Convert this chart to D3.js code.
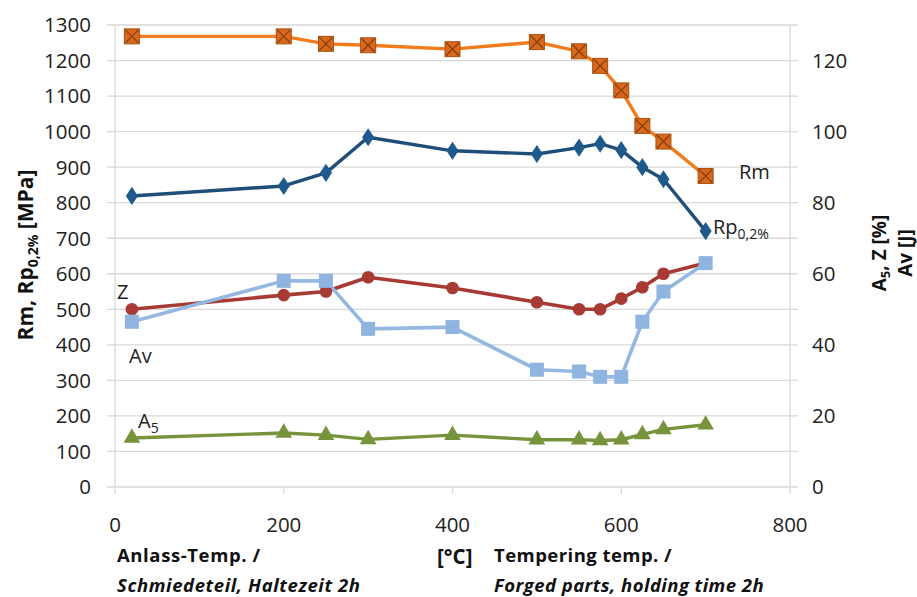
<!DOCTYPE html>
<html><head><meta charset="utf-8">
<script src="https://cdn.jsdelivr.net/npm/d3@7"></script>
<style>
body{margin:0;background:#fff;}
text{font-family:"Open Sans","Noto Sans",sans-serif;}
.wide{font-family:"Open Sans","Noto Sans",sans-serif;font-weight:bold;}
</style></head>
<body><svg id="c" width="917" height="597"></svg>
<script>
const temps = [20, 200, 250, 300, 400, 500, 550, 575, 600, 625, 650, 700];
const rm   = [1268, 1268, 1247, 1243, 1232, 1252, 1226, 1185, 1116, 1016, 972, 875];
const rp   = [819, 847, 884, 984, 946, 937, 955, 966, 948, 900, 866, 720];
const zVal = [50, 54, 55, 59, 56, 52, 50, 50, 53, 56.2, 60, 63];
const av   = [46.5, 58, 58, 44.5, 45, 33, 32.5, 31, 31, 46.5, 55, 63];
const a5   = [13.8, 15.2, 14.6, 13.4, 14.6, 13.3, 13.3, 13.1, 13.3, 14.8, 16.2, 17.5];
const xTicks = [0, 200, 400, 600, 800];
const yLeftTicks = d3.range(0, 1301, 100);
const yRightTicks = [0, 20, 40, 60, 80, 100, 120];

const svg = d3.select("#c");
const x = d3.scaleLinear().domain([0, 800]).range([115, 790]);
const yL = d3.scaleLinear().domain([0, 1300]).range([487, 25]);
const yR = d3.scaleLinear().domain([0, 130]).range([487, 25]);

// gridlines
svg.append("g").selectAll("line").data(yLeftTicks).join("line")
  .attr("x1", 107).attr("x2", 798)
  .attr("y1", d => yL(d)).attr("y2", d => yL(d))
  .attr("stroke", "#d9d9d9").attr("stroke-width", 1.3);
svg.append("line").attr("x1", 115).attr("x2", 115).attr("y1", 25).attr("y2", 487).attr("stroke", "#d9d9d9").attr("stroke-width", 1.3);
svg.append("line").attr("x1", 790).attr("x2", 790).attr("y1", 25).attr("y2", 487).attr("stroke", "#d9d9d9").attr("stroke-width", 1.3);
svg.append("g").selectAll("line").data(xTicks).join("line")
  .attr("x1", d => x(d)).attr("x2", d => x(d)).attr("y1", 487).attr("y2", 494)
  .attr("stroke", "#d9d9d9").attr("stroke-width", 1.3);

// tick labels
svg.append("g").selectAll("text").data(yLeftTicks).join("text")
  .attr("x", 91).attr("y", d => yL(d)).attr("dy", "0.36em").attr("text-anchor", "end")
  .attr("font-size", 20.5).attr("fill", "#222").text(d => d);
svg.append("g").selectAll("text").data(yRightTicks).join("text")
  .attr("x", 812).attr("y", d => yR(d)).attr("dy", "0.36em").attr("text-anchor", "start")
  .attr("font-size", 20.5).attr("fill", "#222").text(d => d);
svg.append("g").selectAll("text").data(xTicks).join("text")
  .attr("x", d => x(d)).attr("y", 525).attr("dy", "0.36em").attr("text-anchor", "middle")
  .attr("font-size", 20.5).attr("fill", "#222").text(d => d);

function series(vals, yS, color, w) {
  const line = d3.line().x((d, i) => x(temps[i])).y(d => yS(d));
  svg.append("path").datum(vals).attr("d", line).attr("fill", "none")
    .attr("stroke", color).attr("stroke-width", w).attr("stroke-linejoin", "round");
}
series(a5, yR, "#77933c", 3.4);
series(zVal, yR, "#a83a34", 3.6);
series(av, yR, "#95b8e0", 3.6);
series(rp, yL, "#1f4e79", 3.4);
series(rm, yL, "#f27c1c", 3.4);

const g = svg.append("g");
g.selectAll(".a5").data(a5).join("path")
  .attr("d", d3.symbol().type(d3.symbolTriangle).size(120))
  .attr("transform", (d, i) => `translate(${x(temps[i])},${yR(d)})`)
  .attr("fill", "#77933c");
g.selectAll(".z").data(zVal).join("circle")
  .attr("cx", (d, i) => x(temps[i])).attr("cy", d => yR(d)).attr("r", 6.3)
  .attr("fill", "#a83a34");
g.selectAll(".av").data(av).join("rect")
  .attr("x", (d, i) => x(temps[i]) - 7).attr("y", d => yR(d) - 7)
  .attr("width", 14).attr("height", 14).attr("fill", "#8fb4df");
g.selectAll(".rp").data(rp).join("path")
  .attr("d", d3.symbol().type(d3.symbolDiamond).size(95))
  .attr("transform", (d, i) => `translate(${x(temps[i])},${yL(d)}) scale(1.15,1)`)
  .attr("fill", "#1f5a8e");
const rmG = g.selectAll(".rm").data(rm).join("g")
  .attr("transform", (d, i) => `translate(${x(temps[i])},${yL(d)})`);
rmG.append("rect").attr("x", -7.5).attr("y", -7.5).attr("width", 15).attr("height", 15)
  .attr("fill", "#d8681d").attr("stroke", "#a7500f").attr("stroke-width", 1);
rmG.append("path").attr("d", "M-6.5,-6.5L6.5,6.5M6.5,-6.5L-6.5,6.5").attr("stroke", "#8a3f0a").attr("stroke-width", 1.3);

// series labels
const lab = svg.append("g").attr("font-size", 20).attr("fill", "#222");
lab.append("text").attr("x", 739).attr("y", 179).text("Rm");
const rpT = lab.append("text").attr("x", 713).attr("y", 234);
rpT.append("tspan").text("Rp");
rpT.append("tspan").attr("font-size", 14).attr("dy", 5).text("0,2%");
lab.append("text").attr("x", 117).attr("y", 299).text("Z");
lab.append("text").attr("x", 129).attr("y", 363).text("Av");
const a5T = lab.append("text").attr("x", 138).attr("y", 428);
a5T.append("tspan").text("A");
a5T.append("tspan").attr("font-size", 14).attr("dy", 5).text("5");

// axis titles
const lt = svg.append("text").attr("transform", "translate(33,255) rotate(-90)")
  .attr("text-anchor", "middle").attr("font-size", 21).attr("font-weight", "bold").attr("fill", "#111");
lt.append("tspan").text("Rm, Rp");
lt.append("tspan").attr("font-size", 14).attr("dy", 5).text("0,2%");
lt.append("tspan").attr("dy", -5).text(" [MPa]");

const rt = svg.append("text").attr("transform", "translate(886,253) rotate(-90)")
  .attr("text-anchor", "middle").attr("font-size", 19).attr("font-weight", "bold").attr("fill", "#111");
rt.append("tspan").text("A");
rt.append("tspan").attr("font-size", 13).attr("dy", 4).text("5");
rt.append("tspan").attr("dy", -4).text(", Z [%]");
svg.append("text").attr("transform", "translate(912,253) rotate(-90)")
  .attr("text-anchor", "middle").attr("font-size", 19).attr("font-weight", "bold").attr("fill", "#111")
  .text("Av [J]");

// bottom labels
const bl = svg.append("g").attr("fill", "#111");
bl.append("text").attr("class", "wide").attr("x", 117).attr("y", 562).attr("font-size", 18.5).attr("letter-spacing", 0.6).text("Anlass-Temp. /");
bl.append("text").attr("class", "wide").attr("x", 117).attr("y", 592).attr("font-size", 18.5).attr("letter-spacing", 0.6).attr("font-style", "italic").text("Schmiedeteil, Haltezeit 2h");
bl.append("text").attr("class", "wide").attr("x", 437).attr("y", 564).attr("font-size", 20.5).text("[°C]");
bl.append("text").attr("class", "wide").attr("x", 494).attr("y", 562).attr("font-size", 18.5).attr("letter-spacing", 0.45).text("Tempering temp. /");
bl.append("text").attr("class", "wide").attr("x", 494).attr("y", 592).attr("font-size", 18.5).attr("letter-spacing", 0.45).attr("font-style", "italic").text("Forged parts, holding time 2h");
</script></body></html>
